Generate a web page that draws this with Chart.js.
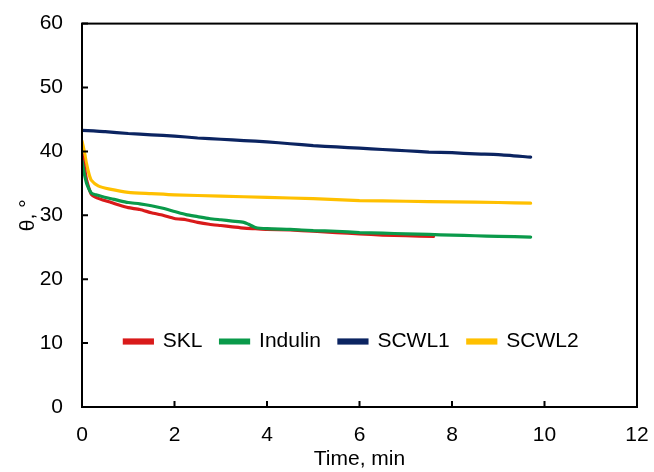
<!DOCTYPE html>
<html>
<head>
<meta charset="utf-8">
<script src="https://cdn.jsdelivr.net/npm/chart.js@4.4.1/dist/chart.umd.min.js"></script>
<style>
  body { margin: 0; background: #fff; }
  #wrap { width: 654px; height: 472px; }
</style>
</head>
<body>
<div id="wrap"><canvas id="myChart"></canvas></div>
<script>
// values (time in min, contact angle in degrees)
const sklTime = [0, 0.05, 0.1, 0.2, 0.3, 0.45, 0.63, 0.8, 1, 1.25, 1.5, 1.75, 2, 2.25, 2.5, 2.75, 3, 3.25, 3.5, 3.75, 4, 4.5, 5, 5.5, 6, 6.5, 7, 7.6];
const sklTheta = [39.5, 37.5, 35.5, 33.3, 32.8, 32.4, 32.0, 31.6, 31.2, 30.9, 30.4, 30.0, 29.5, 29.3, 28.9, 28.6, 28.4, 28.2, 28.0, 27.9, 27.8, 27.7, 27.5, 27.3, 27.1, 26.9, 26.8, 26.7];

const indTime = [0, 0.05, 0.1, 0.2, 0.3, 0.45, 0.63, 0.8, 1, 1.25, 1.5, 1.75, 2, 2.25, 2.5, 2.75, 3, 3.25, 3.5, 3.6, 3.75, 4, 4.5, 5, 5.5, 6, 6.5, 7, 7.5, 8, 8.5, 9, 9.7];
const indTheta = [38.5, 36.5, 35.0, 33.5, 33.2, 32.9, 32.6, 32.3, 32.0, 31.8, 31.5, 31.1, 30.6, 30.1, 29.8, 29.5, 29.3, 29.1, 28.9, 28.6, 28.1, 27.9, 27.8, 27.6, 27.5, 27.3, 27.2, 27.1, 27.0, 26.9, 26.8, 26.7, 26.6];

const cw1Time = [0, 0.25, 0.5, 1, 1.5, 2, 2.5, 3, 3.5, 4, 4.5, 5, 5.5, 6, 6.5, 7, 7.5, 8, 8.5, 9, 9.7];
const cw1Theta = [43.3, 43.2, 43.1, 42.8, 42.6, 42.4, 42.1, 41.9, 41.7, 41.5, 41.2, 40.9, 40.7, 40.5, 40.3, 40.1, 39.9, 39.8, 39.6, 39.5, 39.1];

const cw2Time = [0, 0.05, 0.1, 0.15, 0.2, 0.35, 0.6, 1, 1.5, 2, 3, 4, 5, 6, 7, 8, 9, 9.7];
const cw2Theta = [41.6, 40.0, 38.0, 36.5, 35.5, 34.6, 34.1, 33.6, 33.4, 33.2, 33.0, 32.8, 32.6, 32.3, 32.2, 32.1, 32.0, 31.9];

const seriesNames = ['SKL', 'Indulin', 'SCWL1', 'SCWL2'];
const xTicks = [0, 2, 4, 6, 8, 10, 12];
const yTicks = [0, 10, 20, 30, 40, 50, 60];

function pts(t, v) {
    return t.map((x, i) => ({ x: x, y: v[i] }));
}

// frame, inward tick marks, legend moved inside the plot
const frameTicks = {
    id: 'frameTicks',
    afterInit(chart) {
        const l = chart.legend;
        if (!l) return;
        const protoFit = Object.getPrototypeOf(l).fit;
        l.fit = function () {
            protoFit.call(this);
            this._keepH = this.height;
            this.height = 0;   // take no room in the layout
        };
    },
    afterLayout(chart) {
        const l = chart.legend;
        if (!l) return;
        const a = chart.chartArea;
        const h = l._keepH || 30;
        l.height = h;
        l.top = 313;
        l.bottom = l.top + h;
        l.left = a.left - 8;
        l.right = a.right - 8;
        l.width = l.right - l.left;
    },
    afterDatasetsDraw(chart) {
        const c = chart.ctx;
        const a = chart.chartArea;
        const xs = chart.scales.x;
        const ys = chart.scales.y;
        c.save();
        c.strokeStyle = '#000';
        c.lineWidth = 2;
        c.strokeRect(a.left, a.top, a.right - a.left, a.bottom - a.top);
        c.beginPath();
        xTicks.forEach(v => {
            const px = xs.getPixelForValue(v);
            c.moveTo(px, a.bottom);
            c.lineTo(px, a.bottom - 6);
        });
        yTicks.forEach(v => {
            const py = ys.getPixelForValue(v);
            c.moveTo(a.left, py);
            c.lineTo(a.left + 6, py);
        });
        c.stroke();
        c.restore();
    }
};

const ctx = document.getElementById('myChart').getContext('2d');
const myChart = new Chart(ctx, {
    type: 'line',
    data: {
        datasets: [{
            label: seriesNames[0],
            data: pts(sklTime, sklTheta),
            borderColor: '#D91A1A',
            backgroundColor: '#D91A1A',
            order: 1
        }, {
            label: seriesNames[1],
            data: pts(indTime, indTheta),
            borderColor: '#0A9A4A',
            backgroundColor: '#0A9A4A',
            order: 0
        }, {
            label: seriesNames[2],
            data: pts(cw1Time, cw1Theta),
            borderColor: '#0B2461',
            backgroundColor: '#0B2461',
            order: 2
        }, {
            label: seriesNames[3],
            data: pts(cw2Time, cw2Theta),
            borderColor: '#FFC000',
            backgroundColor: '#FFC000',
            order: 3
        }]
    },
    plugins: [frameTicks],
    options: {
        responsive: true,
        maintainAspectRatio: false,
        animation: false,
        elements: {
            point: { radius: 0 },
            line: { borderWidth: 3.2, tension: 0.2, borderCapStyle: 'round' }
        },
        layout: { padding: { top: 13, right: 17, left: 0, bottom: 0 } },
        plugins: {
            tooltip: { enabled: false },
            legend: {
                position: 'bottom',
                align: 'center',
                labels: {
                    boxWidth: 28,
                    boxHeight: 3,
                    padding: 18,
                    color: '#000',
                    font: { family: 'Liberation Sans', size: 21 },
                    sort: (a, b) => a.datasetIndex - b.datasetIndex
                }
            }
        },
        scales: {
            x: {
                type: 'linear',
                min: 0,
                max: 12,
                ticks: { stepSize: 2, color: '#000', padding: 8, maxRotation: 0, font: { family: 'Liberation Sans', size: 21 } },
                grid: { display: false },
                border: { display: false },
                title: { display: true, text: 'Time, min', color: '#000', padding: { top: 0, bottom: 0 }, font: { family: 'Liberation Sans', size: 21 } },
                afterFit(scale) {
                    scale.height = 65;
                    scale.paddingLeft = 0;
                    scale.paddingRight = 0;
                }
            },
            y: {
                min: 0,
                max: 60,
                ticks: { stepSize: 10, color: '#000', padding: 11, font: { family: 'Liberation Sans', size: 21 } },
                grid: { display: false },
                border: { display: false },
                title: { display: true, text: 'θ, °', color: '#000', padding: { top: 16, bottom: 0 }, font: { family: 'Liberation Sans', size: 21 } },
                afterFit(scale) { scale.width = 82; }
            }
        }
    }
});
</script>
</body>
</html>
